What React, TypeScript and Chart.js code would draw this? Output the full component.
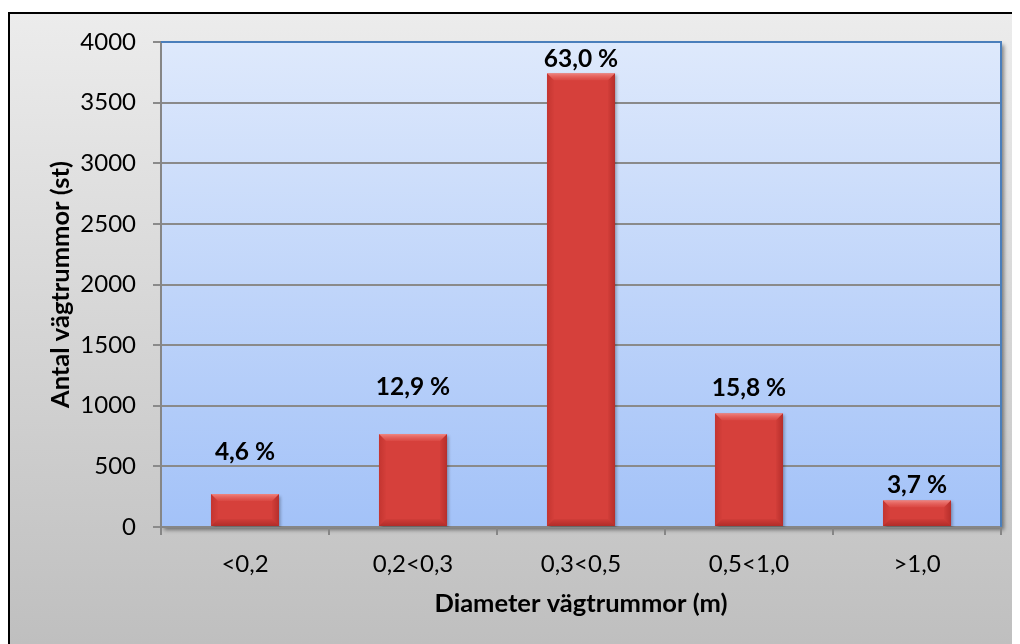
import React, { useEffect, useRef } from "react";
import { Chart, registerables } from "chart.js";

Chart.register(...registerables);

// ---- data ----
const categories = ["<0,2", "0,2<0,3", "0,3<0,5", "0,5<1,0", ">1,0"];
const counts = [273, 766, 3742, 938, 220];
const shareLabels = ["4,6 %", "12,9 %", "63,0 %", "15,8 %", "3,7 %"];
// level (in axis units) at which each percentage label sits in the original
const labelLevels = [628, 1163, 3868, 1155, 357];
const yTickValues = [0, 500, 1000, 1500, 2000, 2500, 3000, 3500, 4000];
const xTitle = "Diameter vägtrummor (m)";
const yTitle = "Antal vägtrummor (st)";

const FONT = "Lato";
const W = 1012;
const H = 636;

const backgroundPlugin = {
  id: "bgPlugin",
  beforeDraw(chart: any) {
    const { ctx, chartArea } = chart;
    ctx.save();
    ctx.fillStyle = "#ffffff";
    ctx.fillRect(0, 0, W, H);
    const g = ctx.createLinearGradient(0, 4, 0, H);
    g.addColorStop(0, "#ececec");
    g.addColorStop(1, "#bfbfbf");
    ctx.fillStyle = g;
    ctx.fillRect(0, 4, W, H - 4);
    ctx.strokeStyle = "#000000";
    ctx.lineWidth = 2;
    ctx.beginPath();
    ctx.moveTo(1, H);
    ctx.lineTo(1, 5);
    ctx.lineTo(W, 5);
    ctx.stroke();
    // plot area
    const { left, top, right, bottom } = chartArea;
    ctx.shadowColor = "rgba(0,0,0,0.45)";
    ctx.shadowOffsetX = 3;
    ctx.shadowOffsetY = 3;
    ctx.shadowBlur = 4;
    const pg = ctx.createLinearGradient(0, top, 0, bottom);
    pg.addColorStop(0, "#dee9fc");
    pg.addColorStop(1, "#a3c2f8");
    ctx.fillStyle = pg;
    ctx.fillRect(left, top, right - left, bottom - top);
    ctx.restore();
  },
  beforeDatasetsDraw(chart: any) {
    const ctx = chart.ctx;
    ctx.save();
    ctx.shadowColor = "rgba(0,0,0,0.3)";
    ctx.shadowOffsetX = 2;
    ctx.shadowOffsetY = 2;
    ctx.shadowBlur = 3;
  },
  afterDatasetsDraw(chart: any) {
    const ctx = chart.ctx;
    ctx.restore();
    const { left, top, right, bottom } = chart.chartArea;
    const meta = chart.getDatasetMeta(0);
    // bevels
    meta.data.forEach((bar: any) => {
      const x0 = bar.x - bar.width / 2;
      const x1 = bar.x + bar.width / 2;
      const y0 = bar.y;
      const y1 = bar.base;
      const b = Math.min(7, (y1 - y0) / 3);
      ctx.save();
      // left side
      const lg = ctx.createLinearGradient(x0, 0, x0 + b, 0);
      lg.addColorStop(0, "rgba(110,0,0,0.18)");
      lg.addColorStop(1, "rgba(110,0,0,0.02)");
      ctx.fillStyle = lg;
      ctx.beginPath();
      ctx.moveTo(x0, y0);
      ctx.lineTo(x0 + b, y0 + b);
      ctx.lineTo(x0 + b, y1 - b);
      ctx.lineTo(x0, y1);
      ctx.closePath();
      ctx.fill();
      // right side
      const rg = ctx.createLinearGradient(x1, 0, x1 - b, 0);
      rg.addColorStop(0, "rgba(100,0,0,0.28)");
      rg.addColorStop(1, "rgba(100,0,0,0.04)");
      ctx.fillStyle = rg;
      ctx.beginPath();
      ctx.moveTo(x1, y0);
      ctx.lineTo(x1 - b, y0 + b);
      ctx.lineTo(x1 - b, y1 - b);
      ctx.lineTo(x1, y1);
      ctx.closePath();
      ctx.fill();
      // bottom
      const bg = ctx.createLinearGradient(0, y1, 0, y1 - b);
      bg.addColorStop(0, "rgba(90,0,0,0.3)");
      bg.addColorStop(1, "rgba(90,0,0,0.05)");
      ctx.fillStyle = bg;
      ctx.beginPath();
      ctx.moveTo(x0, y1);
      ctx.lineTo(x0 + b, y1 - b);
      ctx.lineTo(x1 - b, y1 - b);
      ctx.lineTo(x1, y1);
      ctx.closePath();
      ctx.fill();
      // top
      const tg = ctx.createLinearGradient(0, y0, 0, y0 + b);
      tg.addColorStop(0, "rgba(255,180,175,0.6)");
      tg.addColorStop(1, "rgba(245,120,115,0.15)");
      ctx.fillStyle = tg;
      ctx.beginPath();
      ctx.moveTo(x0, y0);
      ctx.lineTo(x1, y0);
      ctx.lineTo(x1 - b, y0 + b);
      ctx.lineTo(x0 + b, y0 + b);
      ctx.closePath();
      ctx.fill();
      ctx.restore();
    });
    // blue top/right border of plot
    ctx.save();
    ctx.strokeStyle = "#4a7ebb";
    ctx.lineWidth = 2;
    ctx.beginPath();
    ctx.moveTo(left, top);
    ctx.lineTo(right, top);
    ctx.lineTo(right, bottom);
    ctx.stroke();
    ctx.restore();
    // percentage labels
    const yScale = chart.scales.y;
    ctx.save();
    ctx.fillStyle = "#000000";
    ctx.font = `bold 24.5px ${FONT}`;
    ctx.textAlign = "center";
    ctx.textBaseline = "middle";
    meta.data.forEach((bar: any, i: number) => {
      const y = yScale.getPixelForValue(labelLevels[i]);
      ctx.fillText(shareLabels[i], bar.x, y + 1);
    });
    ctx.restore();
  },
};

export default function App() {
  const ref = useRef<HTMLCanvasElement | null>(null);
  useEffect(() => {
    if (!ref.current) return;
    const chart = new Chart(ref.current, {
      type: "bar",
      data: {
        labels: categories,
        datasets: [
          {
            data: counts,
            backgroundColor: "#d6403b",
            borderWidth: 0,
            categoryPercentage: 1,
            barPercentage: 0.405,
          },
        ],
      },
      options: {
        responsive: false,
        animation: false,
        devicePixelRatio: 1,
        layout: { padding: { top: 34, right: 19, left: 0, bottom: 0 } },
        plugins: {
          legend: { display: false },
          tooltip: { enabled: false },
          title: { display: false },
        },
        scales: {
          x: {
            grid: {
              drawOnChartArea: false,
              drawTicks: true,
              tickLength: 8,
              color: "#868686",
              lineWidth: 2,
              offset: true,
            },
            border: { color: "#868686", width: 2 },
            ticks: {
              color: "#000000",
              font: { family: FONT, size: 24 },
              padding: 15,
              maxRotation: 0,
            },
            title: {
              display: true,
              text: xTitle,
              color: "#000000",
              font: { family: FONT, size: 25.5, weight: "bold" },
              padding: { top: 0, bottom: 25 },
            },
            afterFit: (scale: any) => {
              scale.height = 117;
            },
          },
          y: {
            min: 0,
            max: 4000,
            afterBuildTicks: (scale: any) => {
              scale.ticks = yTickValues.map((v) => ({ value: v }));
            },
            grid: {
              color: "#8a8a8a",
              lineWidth: 2,
              tickLength: 8,
            },
            border: { color: "#868686", width: 2 },
            ticks: {
              color: "#000000",
              font: { family: FONT, size: 24 },
              padding: 17,
              callback: (v: any) => String(v),
            },
            title: {
              display: true,
              text: yTitle,
              color: "#000000",
              font: { family: FONT, size: 25.5, weight: "bold" },
              padding: { top: 37, bottom: 0 },
            },
            afterFit: (scale: any) => {
              scale.width = 153;
            },
          },
        },
      },
      plugins: [backgroundPlugin],
    });
    return () => chart.destroy();
  }, []);
  return (
    <div style={{ width: W, height: H }}>
      <canvas ref={ref} width={W} height={H} style={{ display: "block" }} />
    </div>
  );
}
